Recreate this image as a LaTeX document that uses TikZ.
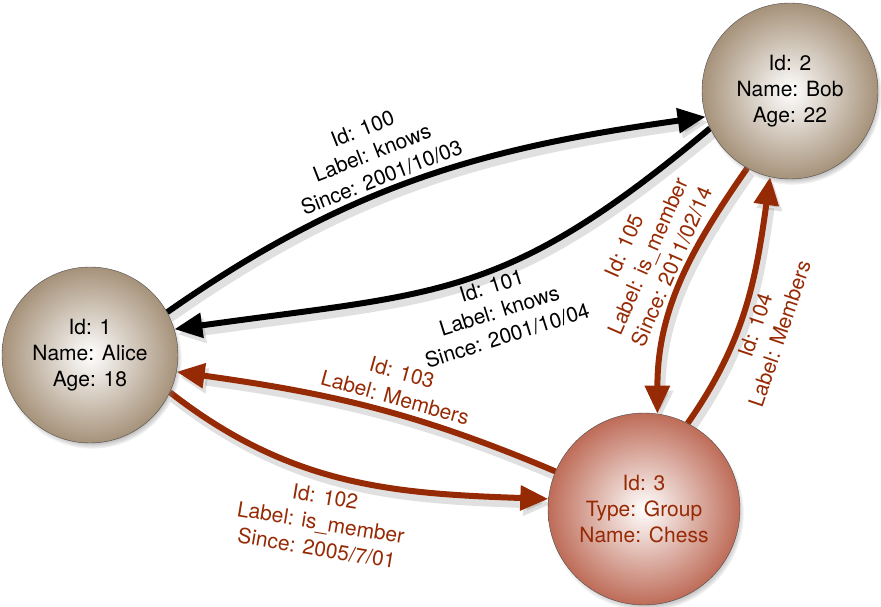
\documentclass[tikz,border=0pt]{standalone}
\usepackage{fontspec}
\setmainfont{TeX Gyre Heros}
\usetikzlibrary{arrows.meta, backgrounds, positioning, shadows}
\definecolor{tanedge}{RGB}{166,146,122}
\definecolor{rustedge}{RGB}{190,108,88}
\definecolor{rust}{RGB}{150,42,4}
\tikzstyle{person}=[circle, draw=black!70, thin, minimum size=176pt, inner sep=0pt, shading=radial, inner color=white, outer color=tanedge, align=center, font=\fontsize{21}{26}\selectfont, circular drop shadow={shadow xshift=2pt, shadow yshift=-4pt, shadow scale=1.02}]
\tikzstyle{group}=[person, minimum size=192pt, outer color=rustedge, text=rust]
\tikzstyle{knows}=[line width=6pt, -{Triangle[length=28pt, width=24pt]}, preaction={draw=black, opacity=0.12, line width=10pt, transform canvas={xshift=3pt, yshift=-5pt}}]
\tikzstyle{member}=[knows, draw=rust]
\tikzstyle{tag}=[align=center, sloped, inner sep=4pt, font=\fontsize{21}{26}\selectfont]

\begin{document}
\begin{tikzpicture}[x=1pt, y=1pt]
  \useasboundingbox (0,0) rectangle (881,606);
  \node[person] (alice) at (90,251) {Id: 1\\Name: Alice\\Age: 18};
  \node[person] (bob) at (790,515) {Id: 2\\Name: Bob\\Age: 22};
  \node[group] (chess) at (644,97) {Id: 3\\Type: Group\\Name: Chess};

  \begin{scope}[on background layer]
    \draw[knows] (alice.29) to[out=35, in=188]
      node[tag, above, pos=0.43] {Id: 100\\Label: knows\\Since: 2001/10/03} (bob.197);
    \draw[knows] (bob.205) to[out=220, in=8, looseness=1.2]
      node[tag, below, pos=0.45, rotate=-3] {Id: 101\\Label: knows\\Since: 2001/10/04} (alice.17);
    \draw[member] (chess.157) to[out=157, in=-8]
      node[tag, above, text=rust, pos=0.44, inner sep=5pt] {Id: 103\\Label: Members} (alice.-11);
    \draw[member] (alice.-25) to[out=-38, in=178]
      node[tag, below, text=rust, pos=0.45, inner sep=12pt, rotate=6] {Id: 102\\Label: is\_member\\Since: 2005/7/01} (chess.174);
    \draw[member] (bob.241) to[out=235, in=90]
      node[tag, above, text=rust, pos=0.45] {Id: 105\\Label: is\_member\\Since: 2011/02/14} (chess.82);
    \draw[member] (chess.63) to[out=55, in=262]
      node[tag, below, text=rust, pos=0.44] {Id: 104\\Label: Members} (bob.257);
  \end{scope}
\end{tikzpicture}
\end{document}
